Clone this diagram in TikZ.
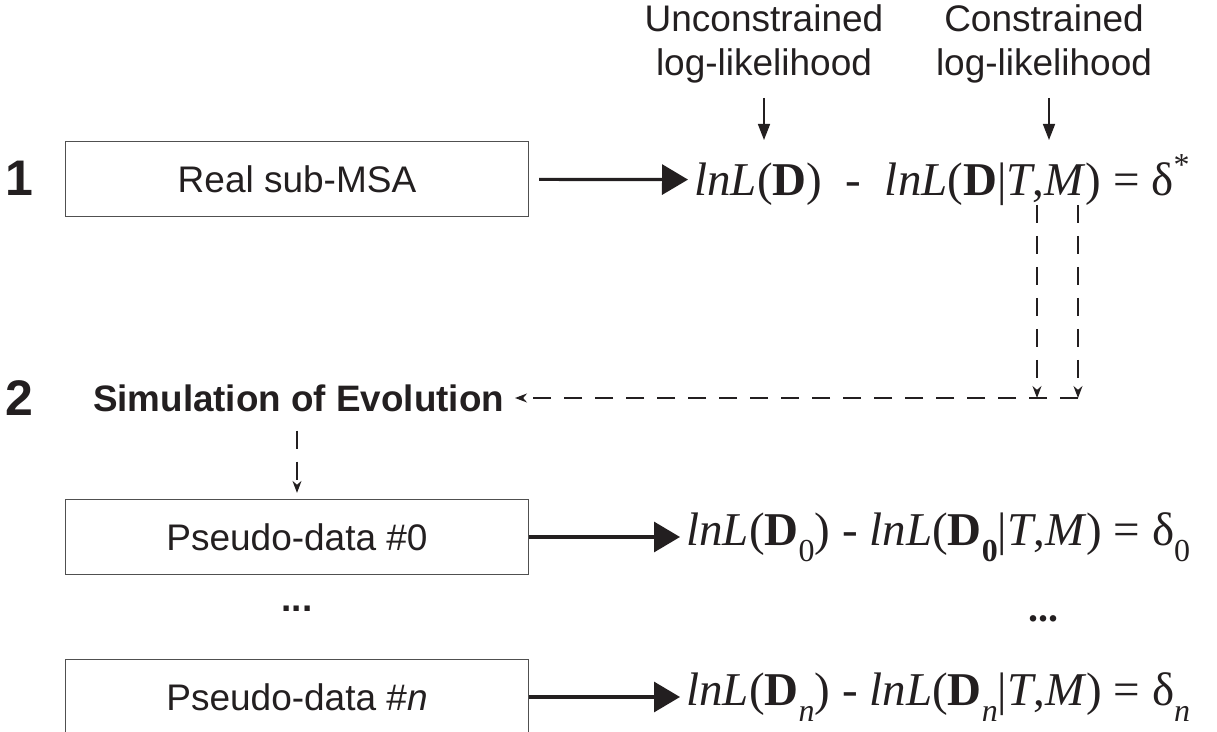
\documentclass[tikz,border=0pt]{standalone}
\usepackage{fontspec}
\setmainfont{Liberation Sans}
\newfontfamily\formfont{Liberation Serif}
\usetikzlibrary{arrows.meta,positioning,calc}
\definecolor{inkdark}{RGB}{35,31,32}
\definecolor{boxgray}{RGB}{80,80,80}
% lowered and raised indices in the likelihood formulas
\newcommand{\dsub}[1]{\raisebox{-0.33em}{\fontsize{16}{16}\selectfont #1}}
\newcommand{\dsup}[1]{\raisebox{0.42em}{\fontsize{16}{16}\selectfont #1}}
\newcommand{\lnL}{\textit{lnL}}
\tikzset{
  box/.style={draw=boxgray, fill=white, line width=0.6pt, text=inkdark,
    minimum width=231.5pt, minimum height=37.5pt, inner sep=0pt,
    font=\fontsize{18.5}{21}\selectfont},
  toplabel/.style={align=center, text=inkdark, inner sep=0pt,
    font=\fontsize{18.5}{22}\selectfont},
  numlabel/.style={text=inkdark, font=\fontsize{25}{25}\selectfont\bfseries},
  formula/.style={anchor=west, inner sep=0pt, text=inkdark,
    font=\formfont\fontsize{23.5}{26}\selectfont},
  flow/.style={-{Triangle[length=13pt,width=15pt]}, line width=1.6pt, draw=inkdark},
  pointer/.style={-{Triangle[length=8pt,width=6pt]}, line width=0.8pt, draw=inkdark},
  dashflow/.style={-{Stealth[length=6pt,width=4.5pt]}, line width=0.6pt,
    draw=inkdark, dash pattern=on 9pt off 6.5pt}
}

\begin{document}
\begin{tikzpicture}[x=0.5pt, y=-0.5pt]
  \useasboundingbox (0,0) rectangle (1217,732);

  % labels over the two likelihood terms
  \node[toplabel] (unc) at (764,44) {Unconstrained\\log-likelihood};
  \node[toplabel] (con) at (1044,44) {Constrained\\log-likelihood};
  \coordinate (uncTip) at (764,140);
  \coordinate (conTip) at (1049,140);
  \draw[pointer] (uncTip |- 0,98) -- (uncTip);
  \draw[pointer] (conTip |- 0,98) -- (conTip);

  % step 1: the real alignment
  \node[numlabel] (one) at (19,178) {1};
  \node[box] (real) at (297,179) {Real sub-MSA};
  \node[formula] (lik) at (694,180)
    {\lnL(\textbf{D})\enspace-\enspace\lnL(\textbf{D}|\textit{T},\textit{M}) = δ\dsup{*}};
  \draw[flow, shorten <=5pt, shorten >=3pt] (real) -- (lik);

  % step 2: simulation
  \node[numlabel] (two) at (19,398) {2};
  \node[anchor=west, text=inkdark, font=\fontsize{18.4}{21}\selectfont\bfseries]
    (sim) at (86,398) {Simulation of Evolution};
  \coordinate (tTop) at (1037,205);
  \coordinate (mTop) at (1078,205);
  \coordinate (tFoot) at (1037,398);
  \coordinate (mFoot) at (1078,398);
  \draw[dashflow] (tTop) -- (tFoot);
  \draw[dashflow] (mTop) -- (mFoot);
  \draw[dashflow, shorten >=2pt] (mFoot) -- (sim.east);

  % pseudo-data replicates
  \node[box] (pd0) at (297,537) {Pseudo-data \#0};
  \node[box] (pdn) at (297,697) {Pseudo-data \#\textit{n}};
  \draw[dashflow, shorten <=6pt, shorten >=3pt] (sim.south -| pd0.north) -- (pd0.north);

  \node[formula] (lik0) at (686,537)
    {\lnL(\textbf{D}\dsub{0}) - \lnL(\textbf{D}\dsub{\textbf{0}}|\textit{T},\textit{M}) = δ\dsub{0}};
  \node[formula] (likn) at (686,697)
    {\lnL(\textbf{D}\dsub{\textit{n}}) - \lnL(\textbf{D}\dsub{\textit{n}}|\textit{T},\textit{M}) = δ\dsub{\textit{n}}};
  \draw[flow, shorten >=3pt] (pd0) -- (lik0);
  \draw[flow, shorten >=3pt] (pdn) -- (likn);

  \node[text=inkdark, font=\fontsize{18.5}{20}\selectfont\bfseries] (gapl) at (297,609) {...};
  \node[text=inkdark, font=\formfont\fontsize{20}{22}\selectfont\bfseries] (gapr) at (1043,619) {...};
\end{tikzpicture}
\end{document}
